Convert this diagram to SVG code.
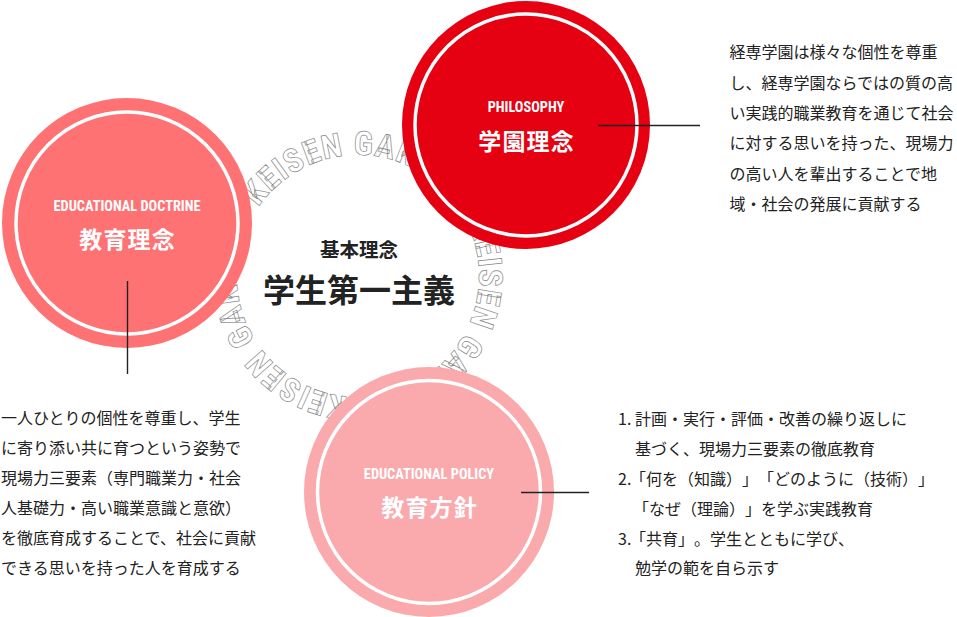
<svg xmlns="http://www.w3.org/2000/svg" xmlns:xlink="http://www.w3.org/1999/xlink" width="957" height="617" viewBox="0 0 957 617">
<style>
.ring{font-family:"Liberation Sans Narrow","Roboto Condensed","DejaVu Sans Condensed","Liberation Sans",sans-serif;font-stretch:condensed;font-weight:bold;font-size:33px;letter-spacing:1px;fill:#fff;stroke:#8a8a8a;stroke-width:0.7}
.en{font-family:"Liberation Sans Narrow","Roboto Condensed","DejaVu Sans Condensed","Liberation Sans",sans-serif;font-stretch:condensed;font-weight:bold;font-size:14.3px;fill:#fff;text-anchor:middle}
.jp{font-family:"Noto Sans CJK JP","Noto Sans CJK SC",sans-serif;font-weight:bold;font-size:23px;fill:#fff;text-anchor:middle;letter-spacing:1.2px}
.body{font-family:"Noto Sans CJK JP","Noto Sans CJK SC",sans-serif;font-size:16px;fill:#222;text-spacing-trim:space-all}
.ctr{font-family:"Noto Sans CJK JP","Noto Sans CJK SC",sans-serif;font-weight:bold;fill:#222;text-anchor:middle}
.ringw{fill:none;stroke:#fff;stroke-width:3.5}
.conn{stroke:#222;stroke-width:1.4;fill:none}
</style>
<defs>
<path id="ringPath" d="M237,276 A121,121 0 1,1 479,276 A121,121 0 1,1 237,276 A121,121 0 1,1 479,276 A121,121 0 1,1 237,276"/>
</defs>
<rect width="957" height="617" fill="#fff"/>
<g id="ring-text">
<text class="ring"><textPath xlink:href="#ringPath" href="#ringPath" startOffset="73">KEISEN GAKUEN</textPath></text>
<text class="ring"><textPath xlink:href="#ringPath" href="#ringPath" startOffset="326.4">KEISEN GAKUEN</textPath></text>
<text class="ring"><textPath xlink:href="#ringPath" href="#ringPath" startOffset="579.8">KEISEN GAKUEN</textPath></text>
</g>
<g id="center">
<text class="ctr" x="359" y="257" font-size="19.5">基本理念</text>
<text class="ctr" x="359" y="302.3" font-size="32">学生第一主義</text>
</g>
<g id="node-doctrine">
<circle cx="127" cy="223" r="125" fill="#FF7274"/>
<circle class="ringw" cx="127" cy="223" r="111"/>
<text class="en" x="127" y="211">EDUCATIONAL DOCTRINE</text>
<text class="jp" x="127.6" y="248.3">教育理念</text>
</g>
<g id="node-philosophy">
<circle cx="526" cy="125" r="124" fill="#E50012"/>
<circle class="ringw" cx="526" cy="125" r="111"/>
<text class="en" x="526" y="112">PHILOSOPHY</text>
<text class="jp" x="526.6" y="150.3">学園理念</text>
</g>
<g id="node-policy">
<circle cx="429" cy="492" r="125" fill="#FAAAAC"/>
<circle class="ringw" cx="429" cy="492" r="111.5"/>
<text class="en" x="429" y="479">EDUCATIONAL POLICY</text>
<text class="jp" x="429.6" y="515.8">教育方針</text>
</g>
<g id="connectors">
<line class="conn" x1="598" y1="125.5" x2="700" y2="125.5"/>
<line class="conn" x1="127.5" y1="281" x2="127.5" y2="374"/>
<line class="conn" x1="521" y1="492.5" x2="589" y2="492.5"/>
</g>
<g id="text-philosophy">
<text class="body" x="729.5" y="58.3">経専学園は様々な個性を尊重</text>
<text class="body" x="729.5" y="88.6">し、経専学園ならではの質の高</text>
<text class="body" x="729.5" y="118.9">い実践的職業教育を通じて社会</text>
<text class="body" x="729.5" y="149.2">に対する思いを持った、現場力</text>
<text class="body" x="729.5" y="179.5">の高い人を輩出することで地</text>
<text class="body" x="729.5" y="209.8">域・社会の発展に貢献する</text>
</g>
<g id="text-doctrine">
<text class="body" x="1" y="424">一人ひとりの個性を尊重し、学生</text>
<text class="body" x="1" y="454">に寄り添い共に育つという姿勢で</text>
<text class="body" x="1" y="484">現場力三要素（専門職業力・社会</text>
<text class="body" x="1" y="514">人基礎力・高い職業意識と意欲）</text>
<text class="body" x="1" y="544">を徹底育成することで、社会に貢献</text>
<text class="body" x="1" y="574">できる思いを持った人を育成する</text>
</g>
<g id="text-policy">
<text class="body" y="425.3"><tspan x="618">1.</tspan><tspan x="635">計画・実行・評価・改善の繰り返しに</tspan></text>
<text class="body" x="635" y="455.1">基づく、現場力三要素の徹底教育</text>
<text class="body" y="484.9"><tspan x="618">2.</tspan><tspan x="630">「何を（知識）」「どのように（技術）」</tspan></text>
<text class="body" x="633" y="514.7">「なぜ（理論）」を学ぶ実践教育</text>
<text class="body" y="544.5"><tspan x="618">3.</tspan><tspan x="630">「共育」。学生とともに学び、</tspan></text>
<text class="body" x="635" y="574.3">勉学の範を自ら示す</text>
</g>
</svg>
